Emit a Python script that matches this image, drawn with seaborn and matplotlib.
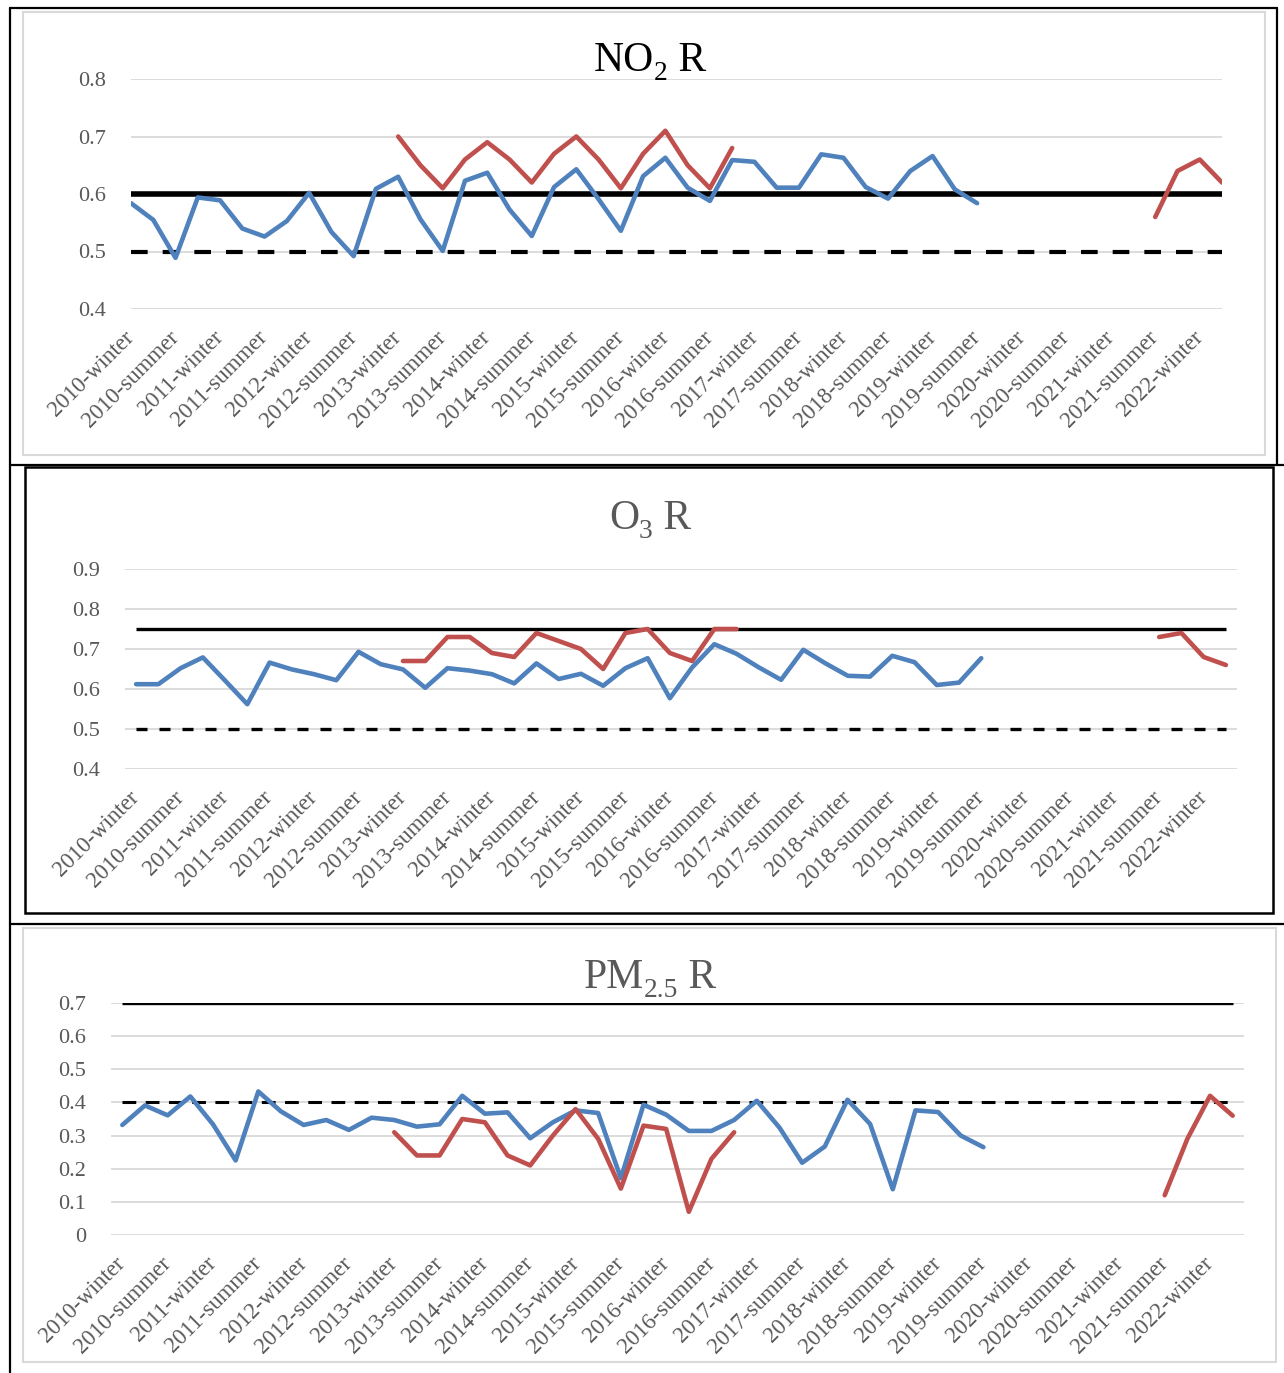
import numpy as np
import pandas as pd
import matplotlib
matplotlib.use('Agg')
import matplotlib.pyplot as plt
import seaborn as sns
from matplotlib.patches import Rectangle
from matplotlib.lines import Line2D
from matplotlib.transforms import offset_copy

nan = np.nan

# categories: 4 seasons per year, 2010-winter .. 2022-spring
years = list(range(2010, 2023))
seasons = ['winter', 'spring', 'summer', 'autumn']
periods = [f'{y}-{s}' for y in years for s in seasons][:50]

# NO2 R
no2_blue = [0.584, 0.555, 0.489, 0.594, 0.589, 0.540, 0.526, 0.553, 0.602, 0.534,
            0.492, 0.609, 0.630, 0.556, 0.501, 0.623, 0.637, 0.573, 0.527, 0.612,
            0.643, 0.591, 0.536, 0.631, 0.663, 0.611, 0.588, 0.659, 0.656, 0.611,
            0.611, 0.669, 0.663, 0.612, 0.592, 0.640, 0.666, 0.608, 0.584] + [nan] * 11
no2_red = [nan] * 12 + [0.70, 0.65, 0.61, 0.66, 0.69, 0.66, 0.62, 0.67, 0.70, 0.66,
                        0.61, 0.67, 0.71, 0.65, 0.61, 0.68] + [nan] * 18 + [0.56, 0.64, 0.66, 0.62]

# O3 R
o3_blue = [0.612, 0.612, 0.652, 0.679, 0.621, 0.562, 0.666, 0.649, 0.637, 0.622,
           0.693, 0.662, 0.649, 0.603, 0.652, 0.646, 0.637, 0.614, 0.664, 0.625,
           0.638, 0.608, 0.652, 0.677, 0.577, 0.654, 0.712, 0.688, 0.654, 0.623,
           0.698, 0.664, 0.633, 0.631, 0.683, 0.667, 0.610, 0.616, 0.677] + [nan] * 11
o3_red = [nan] * 12 + [0.67, 0.67, 0.73, 0.73, 0.69, 0.68, 0.74, 0.72, 0.70, 0.65,
                       0.74, 0.75, 0.69, 0.67, 0.75, 0.75] + [nan] * 18 + [0.73, 0.74, 0.68, 0.66]

# PM2.5 R
pm_blue = [0.332, 0.391, 0.361, 0.418, 0.334, 0.225, 0.433, 0.373, 0.332, 0.347,
           0.317, 0.354, 0.347, 0.327, 0.334, 0.420, 0.366, 0.370, 0.292, 0.340,
           0.376, 0.368, 0.171, 0.393, 0.363, 0.314, 0.314, 0.347, 0.405, 0.324,
           0.218, 0.267, 0.408, 0.335, 0.138, 0.376, 0.371, 0.300, 0.265] + [nan] * 11
pm_red = [nan] * 12 + [0.31, 0.24, 0.24, 0.35, 0.34, 0.24, 0.21, 0.30, 0.38, 0.29,
                       0.14, 0.33, 0.32, 0.07, 0.23, 0.31] + [nan] * 18 + [0.12, 0.29, 0.42, 0.36]

# threshold lines (solid, dashed)
no2_limits = [0.6, 0.5]
o3_limits = [0.75, 0.5]
pm_limits = [0.7, 0.4]


def to_long(blue, red):
    # split each series into unbroken runs so gaps stay gaps
    rows = []
    for name, vals in (('blue', blue), ('red', red)):
        seg = 0
        gap = True
        for i, v in enumerate(vals):
            if np.isnan(v):
                gap = True
                continue
            if gap:
                seg += 1
                gap = False
            rows.append({'idx': i, 'R': v, 'series': name, 'seg': f'{name}{seg}'})
    return pd.DataFrame(rows)


sns.set_theme(style='white')
plt.rcParams['font.family'] = ['Liberation Serif', 'DejaVu Serif']

W, H = 1284, 1373
fig = plt.figure(figsize=(W / 100, H / 100), dpi=100)
fig.patch.set_facecolor('white')
renderer = fig.canvas.get_renderer()


def px_rect(l, t, r, b):
    return [l / W, 1 - b / H, (r - l) / W, (b - t) / H]


def sub_title(xc, yb, pieces, color, size=30):
    # pieces: list of (text, is_subscript); drawn side by side, centred on xc
    texts = []
    for txt, is_sub in pieces:
        t = fig.text(0, 0, txt, fontsize=size * 0.66 if is_sub else size,
                     color=color, ha='left', va='baseline')
        texts.append((t, is_sub))
    widths = [t.get_window_extent(renderer).width for t, _ in texts]
    x = xc - sum(widths) / 2
    for (t, is_sub), w in zip(texts, widths):
        y = yb + (9 if is_sub else 0)
        t.set_position((x / W, 1 - y / H))
        x += w


gray = '#595959'
palette = {'blue': '#4F81BD', 'red': '#C0504D'}

panels = [
    dict(title=[('NO', False), ('2', True), (' R', False)], blue=no2_blue, red=no2_red,
         limits=no2_limits, yticks=[0.4, 0.5, 0.6, 0.7, 0.8], box=(131, 79, 1222, 309),
         pad=0.0, tcolor='black', ty=71, solid_lw=4.0, dash_lw=3.0, dash=(4.0, 3.6)),
    dict(title=[('O', False), ('3', True), (' R', False)], blue=o3_blue, red=o3_red,
         limits=o3_limits, yticks=[0.4, 0.5, 0.6, 0.7, 0.8, 0.9], box=(125, 569, 1237, 769),
         pad=0.5, tcolor=gray, ty=529, solid_lw=2.4, dash_lw=2.4, dash=(3.3, 3.6)),
    dict(title=[('PM', False), ('2.5', True), (' R', False)], blue=pm_blue, red=pm_red,
         limits=pm_limits, yticks=[0, 0.1, 0.2, 0.3, 0.4, 0.5, 0.6, 0.7],
         box=(111, 1003, 1244, 1235), pad=0.5, tcolor=gray, ty=988,
         solid_lw=2.4, dash_lw=2.2, dash=(4.5, 3.1)),
]

n = len(periods)
for p in panels:
    ax = fig.add_axes(px_rect(*p['box']))
    df = to_long(p['blue'], p['red'])
    solid, dashed = p['limits']
    ax.hlines(solid, 0, n - 1, color='black', lw=p['solid_lw'], zorder=2)
    ax.hlines(dashed, 0, n - 1, color='black', lw=p['dash_lw'],
              linestyles=(0, p['dash']), zorder=2)
    sns.lineplot(data=df, x='idx', y='R', hue='series', units='seg', estimator=None,
                 palette=palette, hue_order=['blue', 'red'], lw=3.3, legend=False,
                 sort=False, ax=ax, zorder=3, solid_capstyle='round')
    ax.set_xlim(-p['pad'], n - 1 + p['pad'])
    ax.set_ylim(p['yticks'][0], p['yticks'][-1])
    ax.set_yticks(p['yticks'])
    ax.set_yticklabels([f'{v:g}' for v in p['yticks']])
    ax.set_xticks(range(0, n, 2))
    ax.set_xticklabels(periods[::2], rotation=45, ha='right', va='center',
                       rotation_mode='anchor')
    ax.set_xlabel('')
    ax.set_ylabel('')
    ax.yaxis.grid(True, color='#D9D9D9', lw=1.3)
    ax.set_axisbelow(True)
    for s in ax.spines.values():
        s.set_visible(False)
    ax.tick_params(axis='y', length=0, labelsize=16, labelcolor=gray, pad=18)
    ax.tick_params(axis='x', length=0, labelsize=16.5, labelcolor=gray, pad=18)
    ax.patch.set_alpha(0)
    sub_title(650, p['ty'], p['title'], p['tcolor'])

# Word-table frame and chart borders
fig.add_artist(Rectangle((23 / W, 1 - 455 / H), (1265 - 23) / W, (455 - 12) / H,
                         transform=fig.transFigure, fill=False, ec='#D9D9D9', lw=1.5))
fig.add_artist(Rectangle((23 / W, 1 - 1362 / H), (1276 - 23) / W, (1362 - 928) / H,
                         transform=fig.transFigure, fill=False, ec='#D9D9D9', lw=1.5))
fig.add_artist(Rectangle((25 / W, 1 - 913 / H), (1273 - 25) / W, (913 - 467) / H,
                         transform=fig.transFigure, fill=False, ec='black', lw=1.8))
for xs, ys in [((10, 1277), (8, 8)), ((10, 10), (8, 1373)), ((10, 1284), (465, 465)),
               ((10, 1284), (924, 924)), ((1277, 1277), (8, 465))]:
    fig.add_artist(Line2D([x / W for x in xs], [1 - y / H for y in ys],
                          transform=fig.transFigure, color='black', lw=1.6))

fig.savefig('out.png', dpi=100)
